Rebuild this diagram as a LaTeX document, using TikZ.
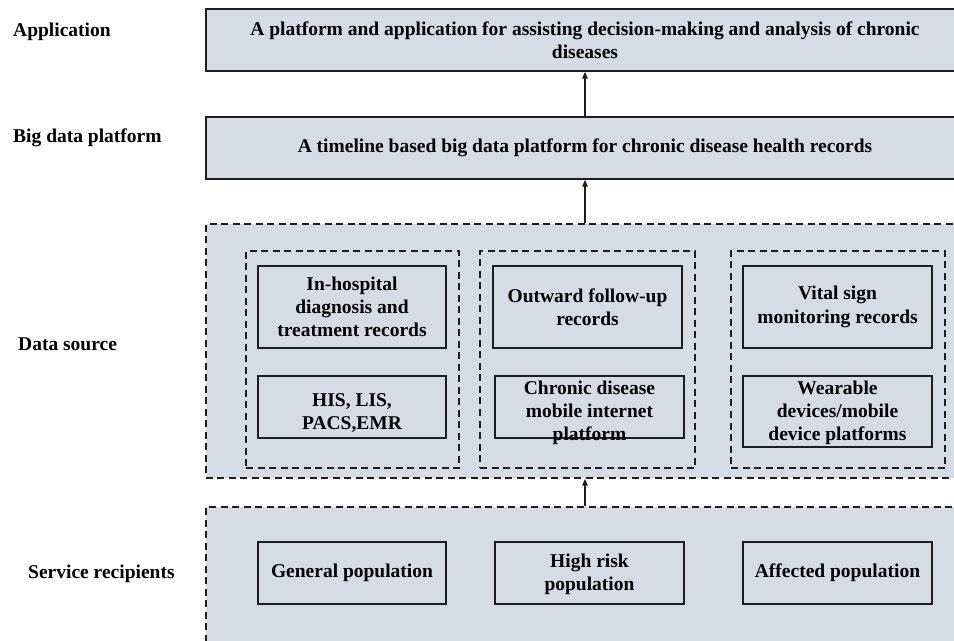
\documentclass[tikz,border=0pt]{standalone}
\usepackage{fontspec}
\setmainfont{Liberation Serif}
\usetikzlibrary{arrows.meta}
\definecolor{panelfill}{HTML}{D6DCE5}
\definecolor{inkline}{HTML}{1E1E1E}
\begin{document}
\begin{tikzpicture}[x=1bp,y=-1bp,
  every node/.style={font=\fontsize{19.5bp}{23.3bp}\selectfont\bfseries, text=black},
  layerbox/.style={draw=inkline, line width=1.4bp, fill=panelfill, minimum width=758bp, inner sep=0, align=center},
  dashedlayer/.style={draw=inkline, line width=1.4bp, fill=panelfill, dash pattern=on 7bp off 4.5bp, minimum width=758bp, inner sep=0},
  groupbox/.style={draw=inkline, line width=1.4bp, dash pattern=on 7bp off 4.5bp, inner sep=0},
  cellbox/.style={draw=inkline, line width=1.4bp, inner sep=0},
  celltext/.style={align=center, inner sep=0},
  sidelabel/.style={anchor=west, inner sep=0},
  uparrow/.style={draw=inkline, line width=1.3bp, -{Triangle[length=7bp,width=5.5bp]}}
]
\useasboundingbox (0,0) rectangle (954,641);
\clip (0,0) rectangle (954,641);

% layer titles on the left
\node[sidelabel] (lblapp)  at (13,32)  {Application};
\node[sidelabel] (lblbdp)  at (13,138) {Big data platform};
\node[sidelabel] (lbldata) at (18,344) {Data source};
\node[sidelabel] (lblrecv) at (28,574) {Service recipients};

% application layer
\node[layerbox, minimum height=62bp] (app) at (585,40)
  {A platform and application for assisting decision-making and analysis of chronic\\diseases};

% big data platform layer
\node[layerbox, minimum height=62bp] (bdp) at (585,148)
  {A timeline based big data platform for chronic disease health records};

% data source layer
\node[dashedlayer, minimum height=254bp] (data) at (585,351) {};
\node[groupbox, minimum width=213bp, minimum height=217bp] (grpA) at (352.5,359.5) {};
\node[groupbox, minimum width=215bp, minimum height=217bp] (grpB) at (587.5,359.5) {};
\node[groupbox, minimum width=214bp, minimum height=217bp] (grpC) at (838,359.5) {};

\node[cellbox, minimum width=188bp, minimum height=82bp] (inhosp) at (352,307) {};
\node[celltext] (inhospt) at (352,307) {In-hospital\\diagnosis and\\treatment records};
\node[cellbox, minimum width=189bp, minimum height=82bp] (follow) at (587.5,307) {};
\node[celltext] (followt) at (587.5,307) {Outward follow-up\\records};
\node[cellbox, minimum width=189bp, minimum height=82bp] (vital) at (837.5,307) {};
\node[celltext] (vitalt) at (837.5,307) {Vital sign\\monitoring records};

\node[cellbox, minimum width=188bp, minimum height=62bp] (his) at (352,407) {};
\node[celltext] (hist) at (352,413) {HIS, LIS,\\PACS,EMR};
\node[cellbox, minimum width=189bp, minimum height=62bp] (mobile) at (589.5,407) {};
\node[celltext] (mobilet) at (589.5,413) {Chronic disease\\mobile internet\\platform};
\node[cellbox, minimum width=189bp, minimum height=71bp] (wear) at (837.5,411.5) {};
\node[celltext] (weart) at (837.5,413) {Wearable\\devices/mobile\\device platforms};

% service recipients layer
\node[dashedlayer, minimum height=173bp] (recip) at (585,593.5) {};
\node[cellbox, minimum width=188bp, minimum height=62bp] (general) at (352,573) {};
\node[celltext] (generalt) at (352,573) {General population};
\node[cellbox, minimum width=189bp, minimum height=62bp] (highrisk) at (589.5,573) {};
\node[celltext] (highriskt) at (589.5,574) {High risk\\population};
\node[cellbox, minimum width=189bp, minimum height=62bp] (affected) at (837.5,573) {};
\node[celltext] (affectedt) at (837.5,573) {Affected population};

% upward flow between layers
\draw[uparrow] (recip.north) -- (data.south);
\draw[uparrow] (data.north) -- (bdp.south);
\draw[uparrow] (bdp.north) -- (app.south);
\end{tikzpicture}
\end{document}
